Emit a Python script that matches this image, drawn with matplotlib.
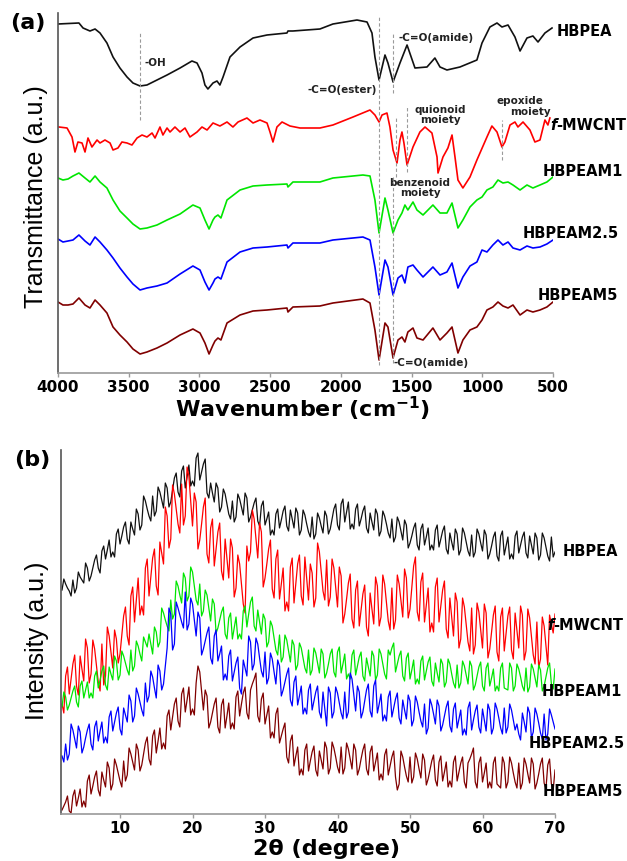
import numpy as np
import matplotlib
matplotlib.use("Agg")
import matplotlib.pyplot as plt

plt.rcParams["font.family"] = ["DejaVu Sans"]
plt.rcParams["mathtext.fontset"] = "dejavusans"

# ---------------- (a) FTIR data ----------------
# HBPEA
wn_hbpea = [4000, 3852, 3823, 3774, 3738, 3703, 3654, 3611, 3562, 3512,
            3470, 3420, 3371, 3300, 3229, 3137, 3053, 3017, 2982, 2961,
            2940, 2904, 2876, 2855, 2833, 2784, 2713, 2621, 2522, 2381,
            2374, 2339, 2148, 2056, 1886, 1815, 1780, 1759, 1730, 1688,
            1667, 1631, 1582, 1532, 1476, 1391, 1335, 1299, 1250, 1158,
            1038, 1002, 946, 896, 861, 818, 769, 733, 684, 642,
            606, 557, 507]
t_hbpea = [349, 350, 345, 342, 344, 340, 330, 316, 305, 296,
           290, 287, 288, 293, 298, 305, 312, 310, 300, 288,
           284, 290, 292, 288, 296, 316, 326, 335, 338, 340,
           342, 342, 344, 349, 353, 351, 340, 316, 293, 318,
           310, 291, 310, 328, 305, 306, 315, 306, 303, 306,
           313, 330, 346, 350, 346, 348, 336, 322, 335, 337,
           331, 340, 345]

# f-MWCNT
wn_mwcnt = [3993, 3936, 3901, 3880, 3859, 3830, 3809, 3788, 3760, 3724,
            3703, 3668, 3632, 3611, 3576, 3548, 3512, 3477, 3441, 3406,
            3371, 3335, 3314, 3279, 3258, 3229, 3208, 3173, 3137, 3102,
            3067, 3017, 2982, 2946, 2904, 2855, 2805, 2763, 2727, 2664,
            2621, 2572, 2522, 2501, 2480, 2452, 2416, 2360, 2289, 2148,
            2056, 1914, 1794, 1759, 1730, 1709, 1674, 1653, 1631, 1603,
            1582, 1568, 1554, 1532, 1490, 1441, 1405, 1356, 1320, 1313,
            1278, 1243, 1214, 1193, 1172, 1137, 1087, 1038, 967, 932,
            896, 861, 840, 804, 769, 748, 712, 663, 628, 592,
            557, 536, 522]
t_mwcnt = [246, 245, 236, 221, 231, 230, 221, 235, 226, 233,
           230, 233, 230, 223, 225, 231, 230, 228, 235, 238,
           236, 240, 235, 246, 238, 245, 241, 246, 241, 245,
           236, 241, 246, 243, 250, 247, 251, 246, 251, 255,
           250, 253, 250, 241, 231, 246, 251, 247, 245, 245,
           248, 256, 263, 258, 251, 258, 260, 246, 223, 210,
           233, 241, 230, 208, 226, 241, 246, 240, 216, 200,
           216, 225, 238, 216, 193, 185, 196, 213, 236, 247,
           241, 226, 231, 248, 251, 246, 251, 243, 231, 233,
           253, 248, 255]

# composites share one wavenumber grid
wn_comp = [4000, 3965, 3929, 3894, 3852, 3809, 3774, 3738, 3703, 3654,
           3611, 3562, 3512, 3470, 3420, 3371, 3300, 3229, 3137, 3046,
           2996, 2961, 2932, 2904, 2890, 2869, 2848, 2805, 2713, 2621,
           2522, 2381, 2374, 2339, 2148, 2056, 1844, 1794, 1759, 1730,
           1688, 1667, 1631, 1596, 1568, 1547, 1526, 1490, 1462, 1419,
           1349, 1299, 1250, 1214, 1172, 1137, 1087, 1038, 1002, 967,
           925, 889, 854, 818, 783, 733, 684, 642, 592, 543,
           500]
t_m1 = [195, 193, 194, 197, 200, 195, 191, 197, 191, 185,
        173, 162, 155, 149, 144, 145, 148, 153, 159, 168,
        165, 153, 144, 153, 156, 158, 155, 173, 183, 187,
        188, 189, 186, 191, 191, 195, 198, 197, 173, 140,
        175, 163, 140, 153, 160, 168, 163, 171, 163, 158,
        168, 160, 160, 170, 145, 153, 166, 173, 176, 183,
        186, 193, 190, 191, 188, 183, 188, 185, 188, 191,
        196]
t_m25 = [134, 131, 132, 133, 138, 132, 128, 136, 131, 123,
         115, 105, 96, 89, 83, 85, 87, 90, 99, 107,
         103, 91, 83, 90, 94, 96, 94, 111, 121, 125,
         126, 128, 125, 130, 130, 133, 136, 133, 106, 78,
         113, 106, 78, 95, 98, 90, 106, 108, 103, 96,
         106, 98, 101, 110, 85, 96, 107, 111, 123, 121,
         128, 133, 128, 131, 125, 123, 127, 125, 126, 129,
         133]
t_m5 = [71, 68, 68, 69, 75, 68, 65, 73, 68, 60,
        46, 38, 31, 24, 19, 21, 25, 30, 38, 44,
        40, 30, 19, 28, 32, 35, 33, 50, 58, 62,
        63, 65, 61, 66, 67, 70, 74, 70, 43, 13,
        50, 46, 15, 33, 36, 31, 41, 45, 35, 33,
        45, 33, 40, 46, 20, 33, 43, 46, 53, 63,
        66, 71, 67, 65, 68, 58, 63, 61, 63, 66,
        71]

# ---------------- (b) XRD data ----------------
two_theta = np.arange(2, 70.001, 0.25)
i_hbpea = [224, 235, 230, 226, 223, 218, 234, 221, 226, 242, 237, 234, 231, 251, 246, 233, 238, 246, 254, 259,
           246, 241, 263, 268, 255, 264, 274, 257, 262, 257, 280, 285, 270, 278, 287, 292, 275, 270, 292, 285,
           279, 305, 300, 284, 289, 318, 313, 305, 298, 293, 318, 298, 303, 327, 322, 314, 306, 331, 326, 307,
           312, 324, 336, 341, 322, 317, 343, 348, 326, 337, 349, 328, 333, 328, 356, 361, 334, 342, 350, 355,
           321, 316, 331, 321, 312, 331, 326, 302, 307, 325, 320, 310, 300, 295, 313, 292, 297, 320, 315, 307,
           299, 321, 316, 292, 297, 304, 311, 316, 293, 288, 308, 313, 289, 295, 302, 279, 284, 279, 300, 305,
           286, 294, 303, 308, 288, 283, 304, 295, 286, 306, 301, 279, 284, 304, 299, 290, 282, 277, 297, 275,
           280, 301, 296, 288, 281, 303, 298, 280, 285, 295, 305, 310, 289, 284, 310, 315, 292, 302, 312, 285,
           290, 285, 305, 310, 288, 295, 303, 308, 286, 281, 301, 292, 284, 305, 300, 278, 283, 303, 298, 290,
           281, 276, 295, 272, 277, 297, 292, 283, 274, 294, 289, 266, 271, 278, 286, 291, 269, 264, 285, 290,
           269, 277, 286, 264, 269, 264, 284, 289, 267, 275, 283, 288, 265, 260, 281, 272, 264, 285, 280, 259,
           264, 286, 281, 272, 263, 258, 279, 257, 262, 285, 280, 271, 263, 284, 279, 255, 260, 268, 277, 282,
           258, 253, 278, 283, 259, 268, 277, 255, 260, 255, 278, 283, 261, 269, 277, 282, 261, 256, 278, 269,
           260, 281, 276, 254, 259, 281, 276, 267, 258, 253, 277, 257, 262]
i_mwcnt = [110, 101, 138, 147, 120, 135, 150, 159, 128, 119, 158, 145, 133, 175, 166, 131, 140, 174, 165, 148,
           132, 123, 170, 129, 138, 187, 178, 162, 146, 184, 175, 151, 160, 179, 198, 207, 178, 169, 218, 227,
           192, 214, 236, 199, 208, 199, 246, 255, 218, 237, 256, 265, 228, 219, 272, 261, 250, 307, 298, 266,
           275, 329, 320, 305, 290, 281, 330, 289, 298, 347, 338, 313, 288, 321, 312, 265, 274, 290, 307, 316,
           260, 251, 286, 295, 248, 265, 282, 291, 243, 234, 275, 255, 236, 275, 266, 217, 226, 259, 250, 230,
           210, 201, 268, 253, 262, 304, 295, 275, 256, 291, 282, 227, 236, 250, 265, 274, 225, 216, 255, 264,
           215, 230, 246, 203, 212, 203, 247, 256, 211, 230, 250, 259, 218, 209, 257, 235, 214, 250, 241, 207,
           216, 271, 262, 242, 223, 214, 254, 208, 217, 255, 246, 226, 207, 247, 238, 191, 200, 215, 231, 240,
           195, 186, 224, 233, 188, 204, 220, 229, 187, 178, 221, 205, 190, 237, 228, 188, 197, 239, 230, 211,
           193, 184, 226, 185, 194, 239, 230, 213, 197, 245, 236, 196, 205, 226, 248, 257, 202, 193, 232, 241,
           192, 209, 226, 182, 191, 182, 227, 236, 192, 208, 224, 233, 185, 176, 216, 197, 178, 221, 212, 166,
           175, 216, 207, 190, 172, 163, 206, 160, 169, 211, 202, 184, 166, 210, 201, 156, 165, 182, 199, 208,
           162, 153, 197, 206, 163, 180, 198, 207, 164, 155, 201, 183, 166, 208, 199, 154, 163, 205, 196, 177,
           159, 150, 192, 146, 155, 197, 188, 168, 149, 199, 190, 181, 200]
i_m1 = [107, 122, 117, 104, 109, 116, 123, 128, 112, 107, 128, 133, 116, 124, 132, 116, 121, 116, 138, 143,
        126, 134, 143, 148, 129, 124, 147, 140, 134, 158, 153, 134, 139, 163, 158, 151, 144, 139, 164, 143,
        148, 173, 168, 160, 153, 177, 172, 167, 180, 170, 160, 187, 182, 167, 172, 206, 201, 194, 188, 183,
        214, 195, 200, 233, 228, 219, 211, 241, 236, 213, 218, 247, 242, 228, 214, 209, 230, 198, 203, 224,
        219, 206, 193, 215, 210, 181, 186, 194, 202, 207, 180, 175, 196, 201, 175, 186, 197, 175, 180, 175,
        203, 208, 187, 200, 212, 217, 188, 183, 204, 192, 180, 200, 195, 167, 172, 193, 188, 176, 164, 159,
        179, 152, 157, 179, 174, 163, 152, 174, 169, 144, 149, 171, 166, 156, 146, 141, 164, 139, 144, 166,
        161, 151, 141, 165, 160, 136, 141, 150, 160, 165, 142, 137, 162, 167, 141, 150, 160, 135, 140, 135,
        159, 164, 139, 148, 157, 162, 138, 133, 156, 147, 138, 163, 158, 134, 139, 165, 160, 150, 140, 135,
        164, 159, 166, 171, 142, 150, 158, 163, 138, 133, 156, 161, 135, 144, 154, 130, 135, 130, 153, 158,
        134, 143, 152, 157, 133, 128, 151, 141, 132, 155, 150, 127, 132, 155, 150, 140, 131, 126, 149, 126,
        131, 153, 148, 139, 130, 153, 148, 124, 129, 138, 147, 152, 128, 123, 146, 151, 128, 136, 145, 123,
        128, 123, 146, 151, 126, 125, 124, 151, 146, 123, 128, 150, 145, 137, 128, 123, 146, 122, 127, 150,
        145, 136, 127, 149, 144, 123, 128, 137, 146, 151, 130, 125, 145]
i_m25 = [58, 52, 70, 54, 60, 90, 84, 75, 66, 88, 82, 61, 67, 76, 84, 90, 70, 64, 87, 93,
         73, 83, 92, 71, 77, 71, 97, 103, 83, 92, 101, 107, 85, 79, 106, 99, 92, 119, 113, 92,
         98, 126, 120, 112, 104, 98, 131, 112, 118, 143, 137, 126, 116, 149, 143, 124, 130, 148, 166, 206,
         200, 164, 170, 212, 206, 199, 192, 186, 222, 184, 190, 216, 210, 194, 178, 202, 196, 159, 165, 173,
         181, 187, 156, 150, 178, 184, 153, 160, 168, 134, 140, 134, 158, 164, 133, 142, 151, 157, 126, 120,
         154, 146, 138, 178, 172, 144, 150, 176, 170, 156, 143, 137, 162, 130, 136, 161, 155, 142, 130, 154,
         148, 118, 124, 132, 140, 146, 114, 108, 132, 138, 109, 118, 128, 100, 106, 100, 124, 130, 104, 113,
         122, 128, 102, 96, 122, 105, 88, 127, 121, 96, 102, 127, 121, 111, 101, 95, 122, 96, 102, 141,
         135, 119, 103, 128, 122, 96, 102, 113, 124, 130, 103, 97, 128, 134, 101, 110, 120, 93, 99, 93,
         117, 123, 97, 106, 115, 121, 96, 90, 114, 104, 95, 119, 113, 88, 94, 118, 112, 102, 93, 87,
         110, 80, 86, 115, 109, 100, 90, 114, 108, 83, 89, 98, 107, 113, 88, 82, 105, 111, 86, 95,
         104, 79, 85, 79, 106, 112, 84, 94, 103, 109, 87, 81, 105, 94, 83, 110, 104, 80, 86, 111,
         105, 96, 86, 80, 106, 81, 87, 110, 104, 94, 84, 90, 80, 74, 101, 92, 82, 107, 101, 76,
         82, 106, 100, 91, 81, 75, 100, 74, 80, 105, 99, 92, 85]
i_m5 = [4, 8, 12, 18, 3, 1, 18, 24, 8, 16, 25, 7, 13, 7, 33, 39, 20, 28, 37, 43,
        24, 18, 42, 34, 27, 52, 46, 24, 30, 55, 49, 41, 33, 27, 53, 33, 39, 66, 60, 52,
        44, 70, 64, 43, 49, 60, 71, 77, 55, 49, 78, 84, 61, 73, 86, 65, 71, 65, 98, 104,
        84, 97, 110, 116, 93, 87, 120, 126, 102, 114, 127, 99, 105, 99, 131, 148, 142, 123, 104, 124,
        118, 86, 92, 101, 110, 116, 87, 81, 109, 115, 86, 98, 111, 85, 91, 85, 117, 123, 98, 110,
        121, 127, 101, 95, 124, 130, 135, 141, 98, 92, 115, 121, 90, 99, 108, 76, 82, 76, 100, 106,
        71, 78, 85, 91, 57, 51, 73, 79, 48, 58, 67, 39, 45, 39, 64, 70, 43, 53, 62, 68,
        44, 38, 63, 54, 45, 72, 66, 40, 46, 72, 66, 57, 47, 41, 67, 40, 46, 71, 65, 55,
        45, 70, 64, 39, 45, 55, 64, 70, 45, 39, 62, 68, 43, 52, 61, 34, 40, 34, 59, 65,
        39, 48, 57, 63, 37, 24, 30, 63, 57, 47, 38, 32, 57, 31, 37, 61, 55, 45, 36, 60,
        54, 29, 35, 44, 53, 59, 34, 28, 52, 58, 33, 42, 52, 27, 33, 27, 52, 58, 33, 42,
        51, 57, 32, 26, 51, 55, 60, 66, 32, 26, 51, 57, 32, 41, 51, 26, 32, 26, 51, 57,
        30, 28, 26, 57, 51, 26, 32, 57, 51, 41, 32, 26, 51, 25, 31, 56, 50, 40, 31, 56,
        50, 25, 31, 40, 50, 56, 31, 25, 49, 55, 30, 24, 44]

names = ["HBPEA", "f-MWCNT", "HBPEAM1", "HBPEAM2.5", "HBPEAM5"]
colors = ["#111111", "#ff0000", "#00e600", "#0000ff", "#800000"]

BOLD = dict(fontweight="bold")
DASH = dict(color="#9a9a9a", lw=0.8, ls=(0, (3, 2)))


def style_axis(ax):
    for side in ("top", "right"):
        ax.spines[side].set_visible(False)
    ax.spines["left"].set_color("#555555")
    ax.spines["left"].set_linewidth(1.2)
    ax.spines["bottom"].set_color("#9a9a9a")
    ax.spines["bottom"].set_linewidth(1.2)
    ax.set_yticks([])
    ax.tick_params(axis="x", direction="out", length=3, width=1,
                   color="#9a9a9a", labelsize=11, pad=2)
    for lab in ax.get_xticklabels():
        lab.set_fontweight("bold")


def curve_label(ax, x, y, name):
    if name.startswith("f-"):
        ax.text(x, y, "f", fontsize=10.5, fontweight="bold", style="italic",
                va="center", ha="left", clip_on=False)
        ax.annotate("-MWCNT", (x, y), xytext=(4.3, 0), textcoords="offset points",
                    fontsize=10.5, va="center", ha="left", annotation_clip=False, **BOLD)
    else:
        ax.text(x, y, name, fontsize=10.5, va="center", ha="left",
                clip_on=False, **BOLD)


def ftir_panel(ax):
    wns = [wn_hbpea, wn_mwcnt, wn_comp, wn_comp, wn_comp]
    ts = [t_hbpea, t_mwcnt, t_m1, t_m25, t_m5]
    for wn, t, c in zip(wns, ts, colors):
        ax.plot(wn, t, color=c, lw=1.2)

    # guide lines
    ax.plot([3420, 3420], [253, 340], **DASH)
    ax.plot([1730, 1730], [8, 356], **DASH)
    ax.plot([1631, 1631], [280, 340], **DASH)
    ax.plot([1610, 1610], [196, 255], **DASH)
    ax.plot([1631, 1631], [10, 196], **DASH)
    ax.plot([1532, 1532], [201, 267], **DASH)
    ax.plot([861, 861], [213, 253], **DASH)

    ann = dict(fontsize=7.5, fontweight="bold", color="#222222")
    ax.text(3385, 310, "-OH", ha="left", va="center", **ann)
    ax.text(1745, 283, "-C=O(ester)", ha="right", va="center", **ann)
    ax.text(1589, 335, "-C=O(amide)", ha="left", va="center", **ann)
    ax.text(1299, 258, "quionoid\nmoiety", ha="center", va="center",
            linespacing=0.9, **ann)
    ax.text(733, 272, "epoxide", ha="center", va="center", **ann)
    ax.text(663, 261, "moiety", ha="center", va="center", **ann)
    ax.text(1440, 185, "benzenoid\nmoiety", ha="center", va="center",
            linespacing=0.9, **ann)
    ax.text(1631, 10, "-C=O(amide)", ha="left", va="center", **ann)

    label_pos = [(472, 341), (522, 247), (571, 201), (712, 140), (606, 78)]
    for (x, y), n in zip(label_pos, names):
        curve_label(ax, x, y, n)

    ax.set_xlim(4000, 500)
    ax.set_ylim(0, 360)
    ax.set_xticks([4000, 3500, 3000, 2500, 2000, 1500, 1000, 500])
    style_axis(ax)


def xrd_panel(ax):
    for i, c in zip([i_hbpea, i_mwcnt, i_m1, i_m25, i_m5], colors):
        ax.plot(two_theta, i, color=c, lw=0.9)

    label_pos = [(71.0, 263), (69.0, 189), (68.2, 122), (66.3, 71), (68.3, 22)]
    for (x, y), n in zip(label_pos, names):
        curve_label(ax, x, y, n)

    ax.set_xlim(1.86, 70)
    ax.set_ylim(0, 364)
    ax.set_xticks([10, 20, 30, 40, 50, 60, 70])
    style_axis(ax)


fig = plt.figure(figsize=(6.27, 8.61), dpi=100)
ax_a = fig.add_axes([58 / 627, 1 - 373 / 861, 495 / 627, 360 / 861])
ax_b = fig.add_axes([61 / 627, 1 - 814 / 861, 494 / 627, 364 / 861])
ax_a.patch.set_alpha(0)
ax_b.patch.set_alpha(0)

ftir_panel(ax_a)
xrd_panel(ax_b)

fig.text(10 / 627, 1 - 23 / 861, "(a)", fontsize=16, va="center", ha="left", **BOLD)
fig.text(14 / 627, 1 - 460 / 861, "(b)", fontsize=16, va="center", ha="left", **BOLD)
fig.text(36 / 627, 1 - 197 / 861, "Transmittance (a.u.)", rotation=90,
         fontsize=18, va="center", ha="center", family="Liberation Sans")
fig.text(37 / 627, 1 - 641 / 861, "Intensity (a.u.)", rotation=90,
         fontsize=18, va="center", ha="center", family="Liberation Sans")
fig.text(303 / 627, 1 - 409 / 861, r"Wavenumber (cm$^{\mathbf{-1}}$)",
         fontsize=16, va="center", ha="center", **BOLD)
fig.text(327 / 627, 1 - 849 / 861, "2\u03b8 (degree)",
         fontsize=16, va="center", ha="center", **BOLD)

fig.savefig("out.png", dpi=100)
